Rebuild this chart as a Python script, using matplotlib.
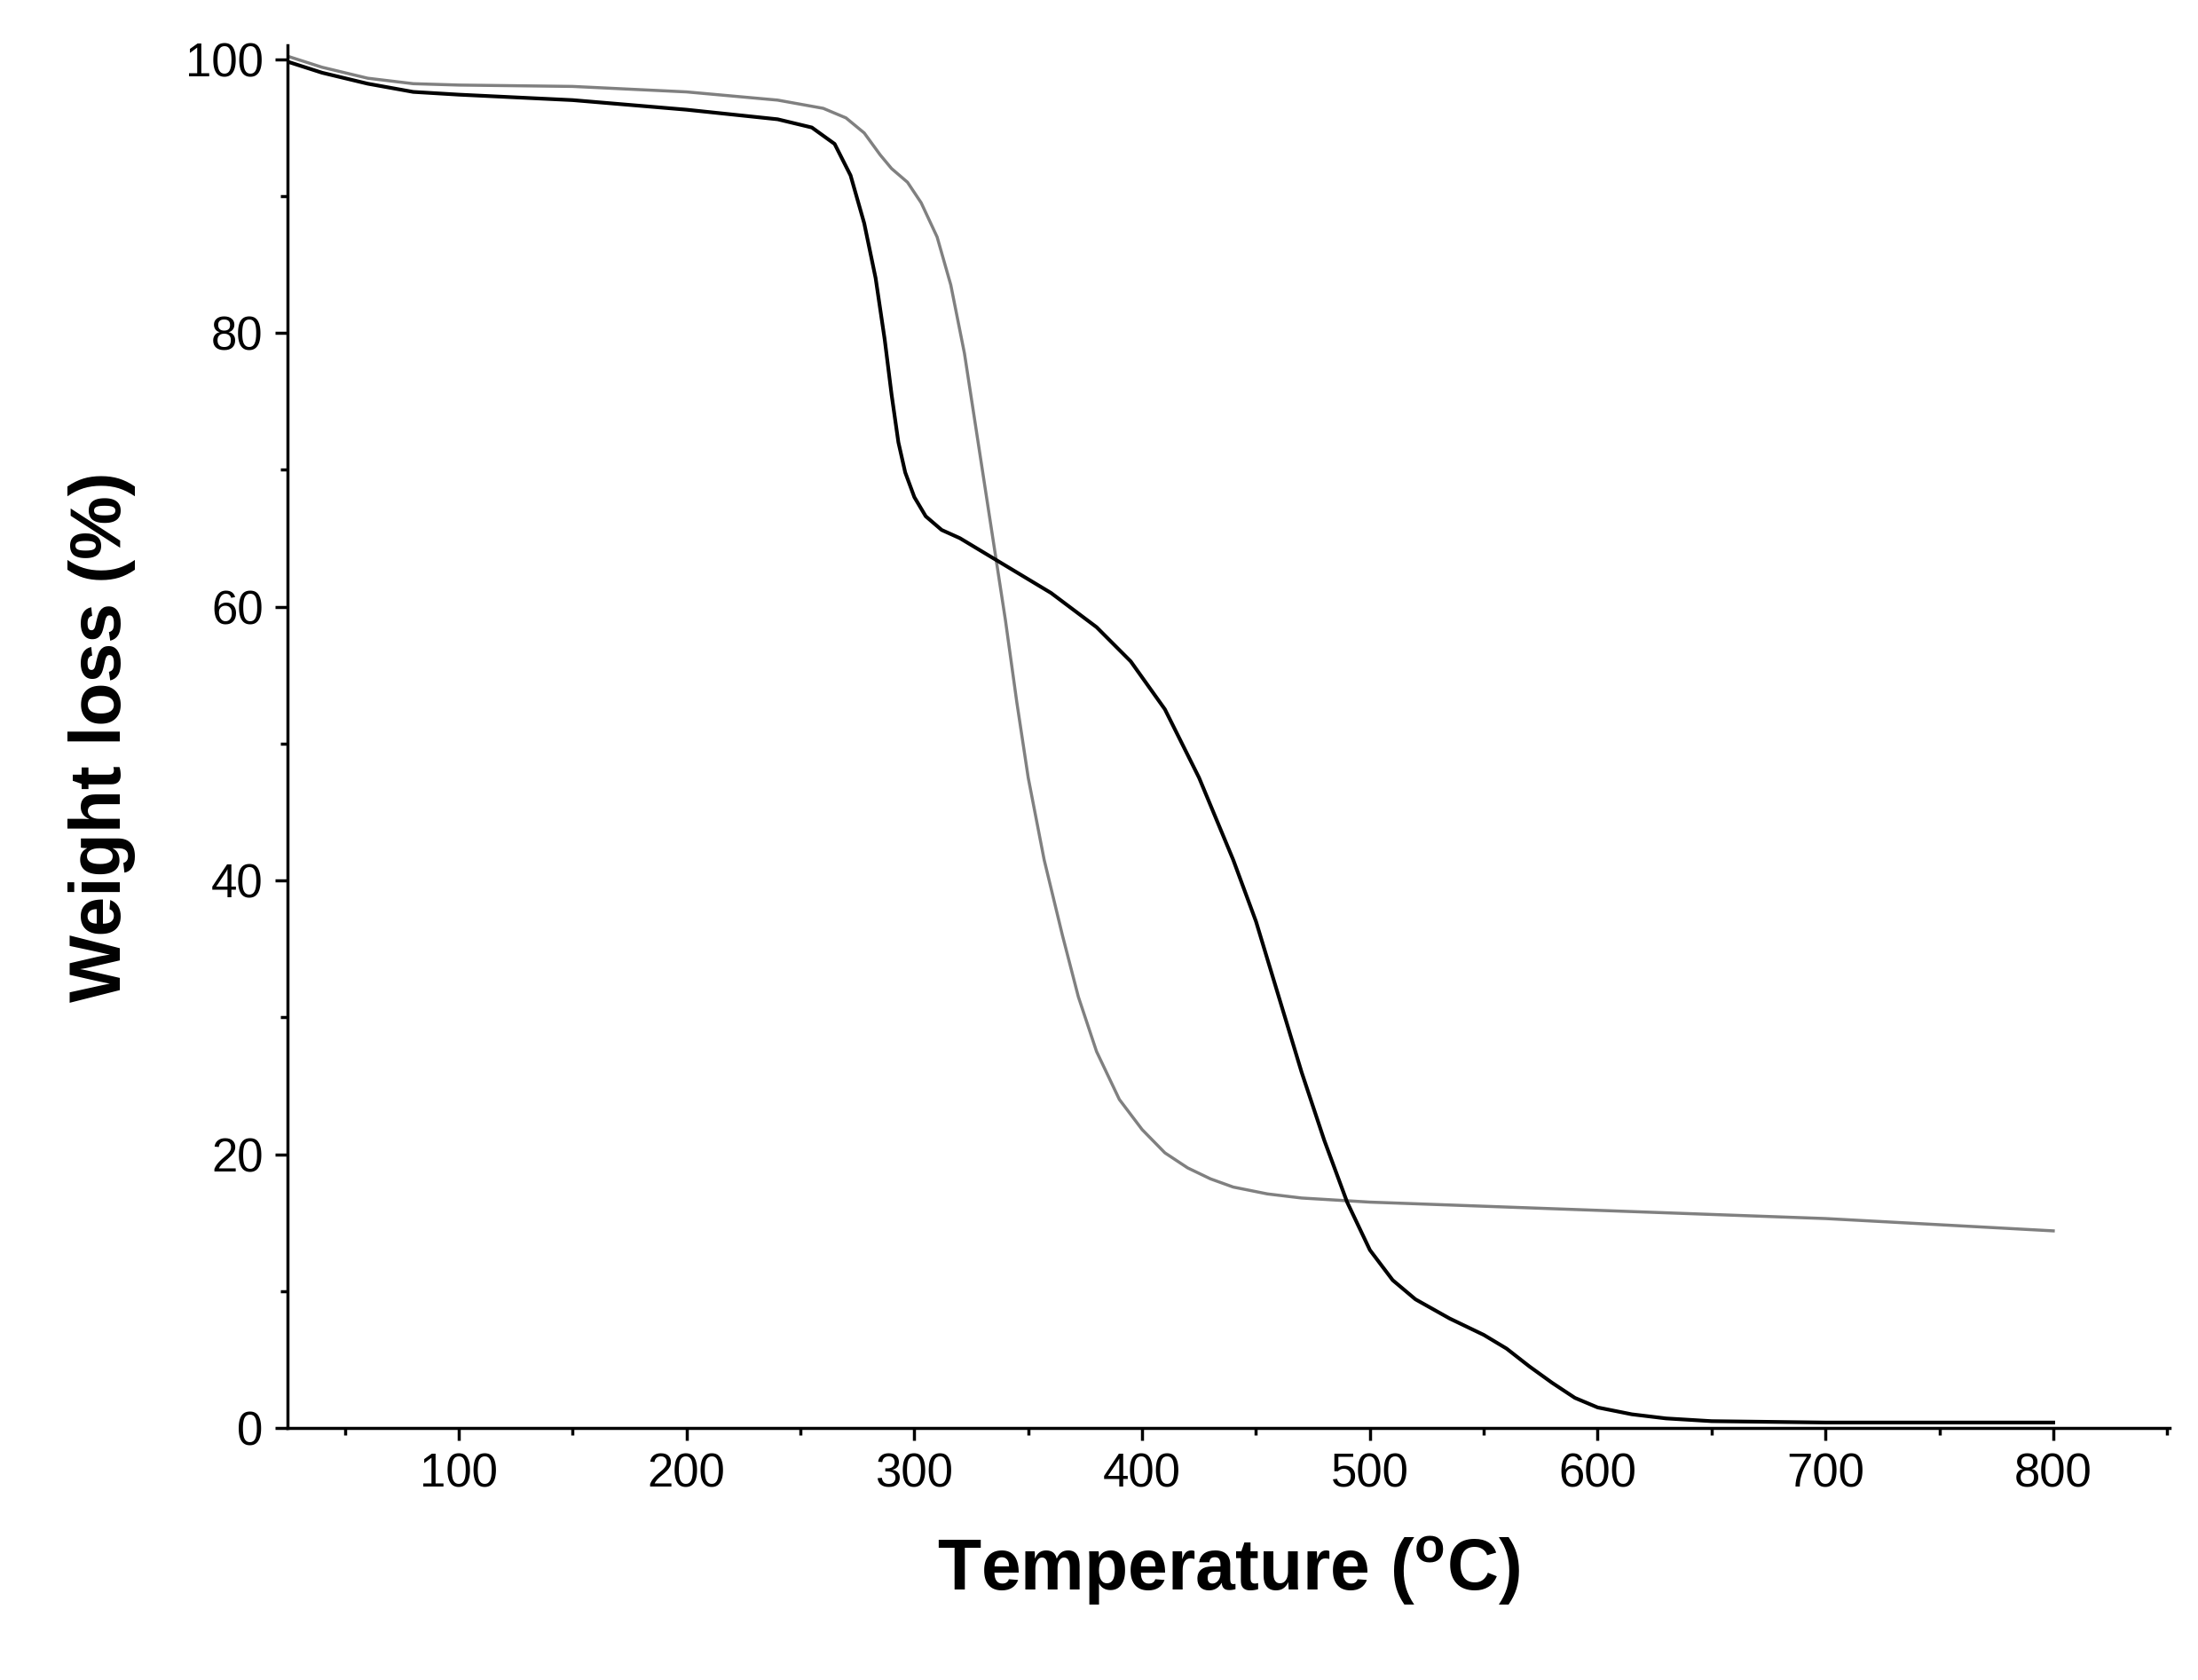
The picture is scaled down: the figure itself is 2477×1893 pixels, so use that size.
import matplotlib.pyplot as plt
from matplotlib.ticker import MultipleLocator

plt.rcParams['font.family'] = ['Liberation Sans', 'DejaVu Sans']

# black curve (temperature, weight %)
t_black = [25, 40, 60, 80, 100, 150, 200, 240, 255, 265, 272, 278, 283, 287, 290, 293, 296,
           300, 305, 312, 320, 340, 360, 380, 395, 410, 425, 440, 450, 460, 470, 480, 490,
           500, 510, 520, 535, 550, 560, 570, 580, 590, 600, 615, 630, 650, 700, 800]
w_black = [99.8, 99.0, 98.2, 97.6, 97.4, 97.0, 96.3, 95.6, 95.0, 93.8, 91.5, 88.0, 84.0,
           79.5, 75.5, 72.0, 69.8, 68.0, 66.6, 65.6, 65.0, 63.0, 61.0, 58.5, 56.0, 52.5,
           47.5, 41.5, 37.0, 31.5, 26.0, 21.0, 16.5, 13.0, 10.8, 9.4, 8.0, 6.8, 5.8, 4.5,
           3.3, 2.2, 1.5, 1.0, 0.7, 0.5, 0.4, 0.4]

# gray curve
t_gray = [25, 40, 60, 80, 100, 150, 200, 240, 260, 270, 278, 285, 290, 297, 303, 310, 316,
          322, 328, 334, 340, 345, 350, 357, 365, 372, 380, 390, 400, 410, 420, 430, 440,
          455, 470, 500, 600, 700, 800]
w_gray = [100.2, 99.4, 98.6, 98.2, 98.1, 98.0, 97.6, 97.0, 96.4, 95.7, 94.6, 93.0, 92.0,
          91.0, 89.5, 87.0, 83.5, 78.5, 72.0, 65.5, 59.0, 53.0, 47.5, 41.5, 36.0, 31.5,
          27.5, 24.0, 21.8, 20.1, 19.0, 18.2, 17.6, 17.1, 16.8, 16.5, 15.9, 15.3, 14.4]

fig = plt.figure(figsize=(24.77, 18.93), dpi=100)
ax = fig.add_axes([0.131, 0.150, 0.856, 0.823])

ax.plot(t_gray, w_gray, color='#808080', lw=2.5)
ax.plot(t_black, w_black, color='black', lw=3)

ax.set_xlim(25, 851)
ax.set_ylim(0, 101)
ax.xaxis.set_major_locator(MultipleLocator(100))
ax.xaxis.set_minor_locator(MultipleLocator(50))
ax.yaxis.set_major_locator(MultipleLocator(20))
ax.yaxis.set_minor_locator(MultipleLocator(10))
ax.spines['top'].set_visible(False)
ax.spines['right'].set_visible(False)
for s in ax.spines.values():
    s.set_linewidth(2.5)
ax.tick_params(which='major', length=10, width=2.5, labelsize=38, direction='out', pad=10)
ax.tick_params(which='minor', length=6, width=2.5, direction='out')

ax.set_xlabel('Temperature ($^{\\mathregular{o}}$C)', fontsize=58, fontweight='bold', labelpad=30)
ax.set_ylabel('Weight loss (%)', fontsize=58, fontweight='bold', labelpad=40)

fig.savefig('out.png')
